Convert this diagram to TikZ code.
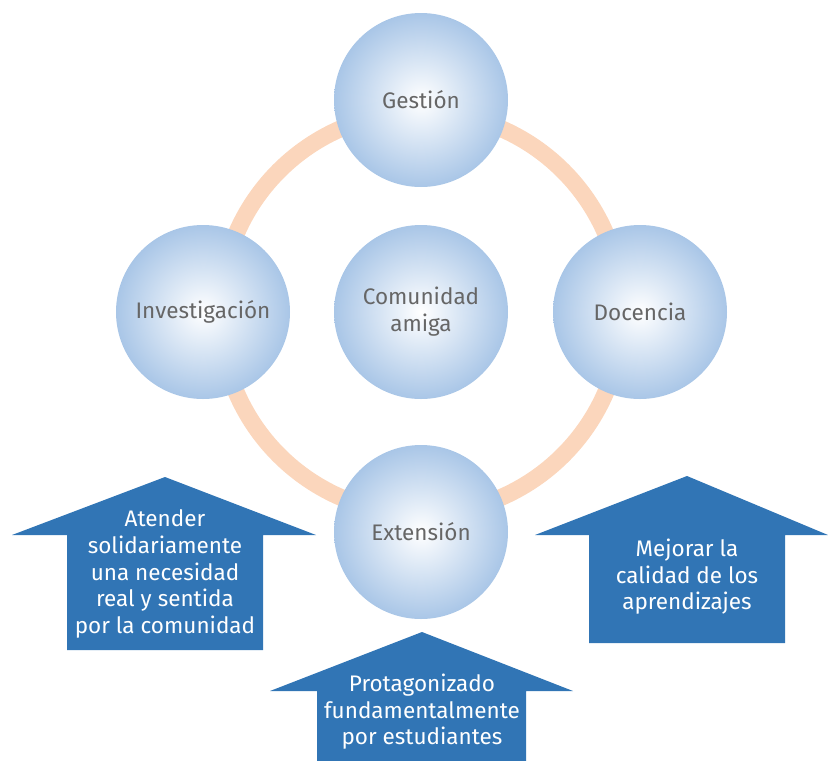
\documentclass[tikz,border=0pt]{standalone}
\usepackage{fontspec}
\setmainfont{Fira Sans}

\definecolor{anillo}{HTML}{FBD6BC}
\definecolor{azulcirc}{HTML}{A9C6E7}
\definecolor{azulflecha}{HTML}{3175B5}
\definecolor{gristexto}{HTML}{666666}

\tikzset{
  burbuja/.style={circle, minimum size=174pt, inner sep=0pt, align=center,
    inner color=white, outer color=azulcirc, text=gristexto,
    font=\fontsize{22.5}{27}\selectfont},
  flechatexto/.style={align=center, text=white, inner sep=0pt,
    font=\fontsize{22.5}{26.6}\selectfont}
}

\begin{document}
\begin{tikzpicture}[x=1pt,y=-1pt]
      \useasboundingbox (0,0) rectangle (828,761) ;
      % anillo de fondo
      \draw[anillo, line width=17pt] (421,313) circle (201) ;
      % las cinco burbujas
      \node[burbuja] (gestion) at (421,100) {Gestión} ;
      \node[burbuja] (investigacion) at (203,312) {Investigación} ;
      \node[burbuja] (comunidad) at (421,312) {Comunidad\\amiga} ;
      \node[burbuja] (docencia) at (640,312) {Docencia} ;
      \node[burbuja] (extension) at (421,532) {Extensión} ;
      % flechas hacia arriba
      \fill[azulflecha] (165,477) -- (316,535) -- (263,535) -- (263,650) %
        -- (67,650) -- (67,535) -- (12,535) -- cycle ;
      \fill[azulflecha] (687,476) -- (828,535) -- (785,535) -- (785,643) %
        -- (589,643) -- (589,535) -- (535,535) -- cycle ;
      \fill[azulflecha] (422,632) -- (573,691) -- (526,691) -- (526,761) %
        -- (317,761) -- (317,691) -- (270,691) -- cycle ;
      \node[flechatexto] (atender) at (165,574) %
        {Atender\\solidariamente\\una necesidad\\real y sentida\\por la comunidad} ;
      \node[flechatexto] (mejorar) at (687,577) %
        {Mejorar la\\calidad de los\\aprendizajes} ;
      \node[flechatexto] (protagonizado) at (422,712) %
        {Protagonizado\\fundamentalmente\\por estudiantes} ;
    \end{tikzpicture}
\end{document}
